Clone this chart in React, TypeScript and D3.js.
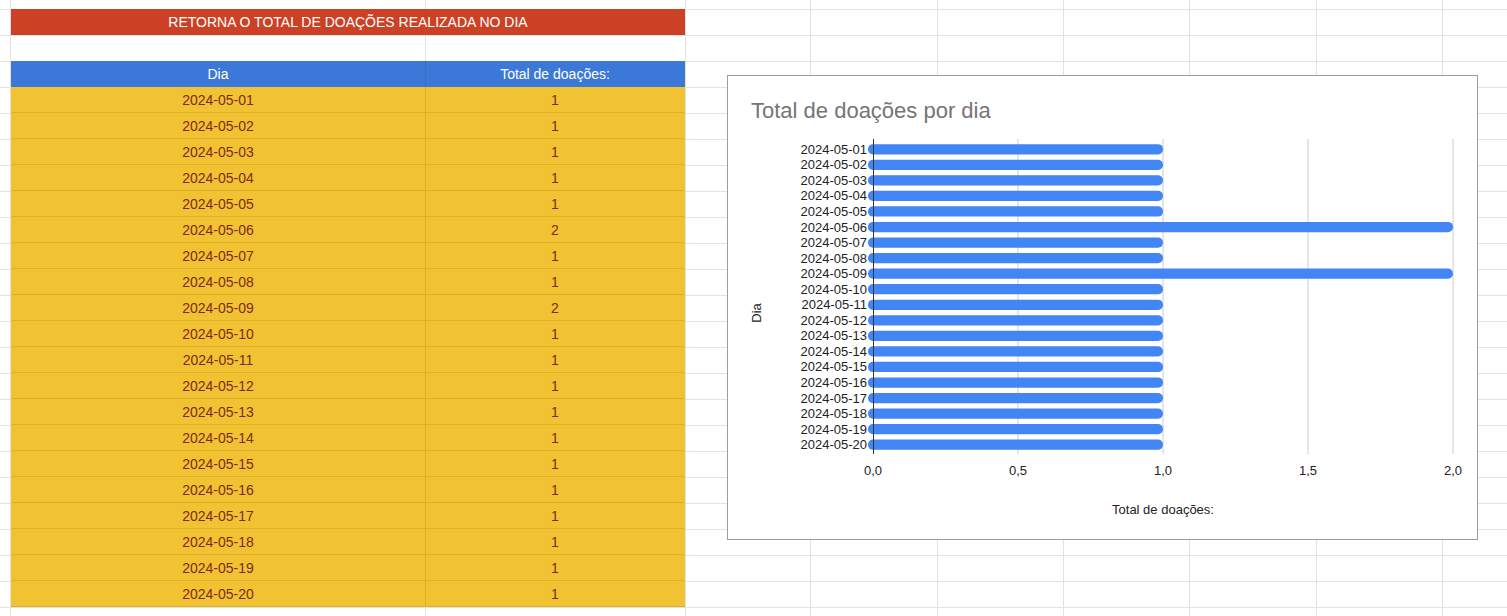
import * as React from 'react'
import * as d3 from 'd3'

const days = [
  '2024-05-01', '2024-05-02', '2024-05-03', '2024-05-04', '2024-05-05',
  '2024-05-06', '2024-05-07', '2024-05-08', '2024-05-09', '2024-05-10',
  '2024-05-11', '2024-05-12', '2024-05-13', '2024-05-14', '2024-05-15',
  '2024-05-16', '2024-05-17', '2024-05-18', '2024-05-19', '2024-05-20',
]
const totals = [1, 1, 1, 1, 1, 2, 1, 1, 2, 1, 1, 1, 1, 1, 1, 1, 1, 1, 1, 1]
const xTicks = [0, 0.5, 1, 1.5, 2]

const W = 1507
const H = 616
const font = 'Arial, "Liberation Sans", sans-serif'

// spreadsheet grid
const colLines = [10, 425, 685, 810, 937, 1063, 1189, 1316, 1442]
const rowLines = d3.range(9, H, 26)

const App = () => {
  const x = d3.scaleLinear().domain([0, 2]).range([873, 1453])
  const y = d3.scaleBand().domain(days).range([141.5, 452.5]).paddingInner(0.34).paddingOuter(0.17)
  const fmt = (v: number) => d3.format('.1f')(v).replace('.', ',')
  const rowY = (i: number) => 87 + i * 26

  return (
    <svg width={W} height={H} style={{ position: 'absolute', left: 0, top: 0, background: '#fff' }}>
      {colLines.map(c => <line key={'c' + c} x1={c + 0.5} x2={c + 0.5} y1={0} y2={H} stroke="#e2e2e2" />)}
      {rowLines.map(r => <line key={'r' + r} x1={0} x2={W} y1={r + 0.5} y2={r + 0.5} stroke="#e2e2e2" />)}

      {/* table */}
      <rect x={11} y={9} width={674} height={26} fill="#cc4125" />
      <text x={348} y={27} textAnchor="middle" fill="#fff" fontFamily={font} fontSize={14}>RETORNA O TOTAL DE DOAÇÕES REALIZADA NO DIA</text>
      <rect x={11} y={61} width={674} height={26} fill="#3c78d8" />
      <line x1={425.5} x2={425.5} y1={61} y2={87} stroke="#3a6fc4" />
      <text x={218} y={79} textAnchor="middle" fill="#fff" fontFamily={font} fontSize={14}>Dia</text>
      <text x={555} y={79} textAnchor="middle" fill="#fff" fontFamily={font} fontSize={14}>Total de doações:</text>
      {days.map((d, i) => (
        <g key={d}>
          <rect x={11} y={rowY(i)} width={674} height={26} fill="#f1c232" />
          <line x1={11} x2={685} y1={rowY(i) + 25.5} y2={rowY(i) + 25.5} stroke="#deb02a" />
          <line x1={425.5} x2={425.5} y1={rowY(i)} y2={rowY(i) + 26} stroke="#deb02a" />
          <text x={218} y={rowY(i) + 18} textAnchor="middle" fill="#7f2a14" fontFamily={font} fontSize={14}>{d}</text>
          <text x={555} y={rowY(i) + 18} textAnchor="middle" fill="#7f2a14" fontFamily={font} fontSize={14}>{totals[i]}</text>
        </g>
      ))}

      {/* chart */}
      <rect x={727.5} y={75.5} width={750} height={464} fill="#fff" stroke="#9e9e9e" />
      <text x={751} y={118} fill="#757575" fontFamily={font} fontSize={22}>Total de doações por dia</text>
      {xTicks.map(t => (
        <g key={t}>
          {t > 0 && <line x1={x(t)} x2={x(t)} y1={139} y2={454} stroke="#cccccc" />}
          <text x={x(t)} y={475} textAnchor="middle" fill="#222" fontFamily={font} fontSize={13}>{fmt(t)}</text>
        </g>
      ))}
      {days.map((d, i) => (
        <g key={'b' + d}>
          <rect x={x(0) - 5} y={y(d)} width={x(totals[i]) - x(0) + 5} height={y.bandwidth()} rx={5} fill="#4285f4" />
          <text x={867} y={y(d)! + y.bandwidth() / 2 + 4.5} textAnchor="end" fill="#222" fontFamily={font} fontSize={13}>{d}</text>
        </g>
      ))}
      <rect x={873.5} y={139} width={0} height={0} />
      <line x1={873.5} x2={873.5} y1={139} y2={454} stroke="#333" />
      <text x={1163} y={514} textAnchor="middle" fill="#222" fontFamily={font} fontSize={13}>Total de doações:</text>
      <text transform="translate(761,313) rotate(-90)" textAnchor="middle" fill="#222" fontFamily={font} fontSize={13}>Dia</text>
    </svg>
  )
}

export default App
